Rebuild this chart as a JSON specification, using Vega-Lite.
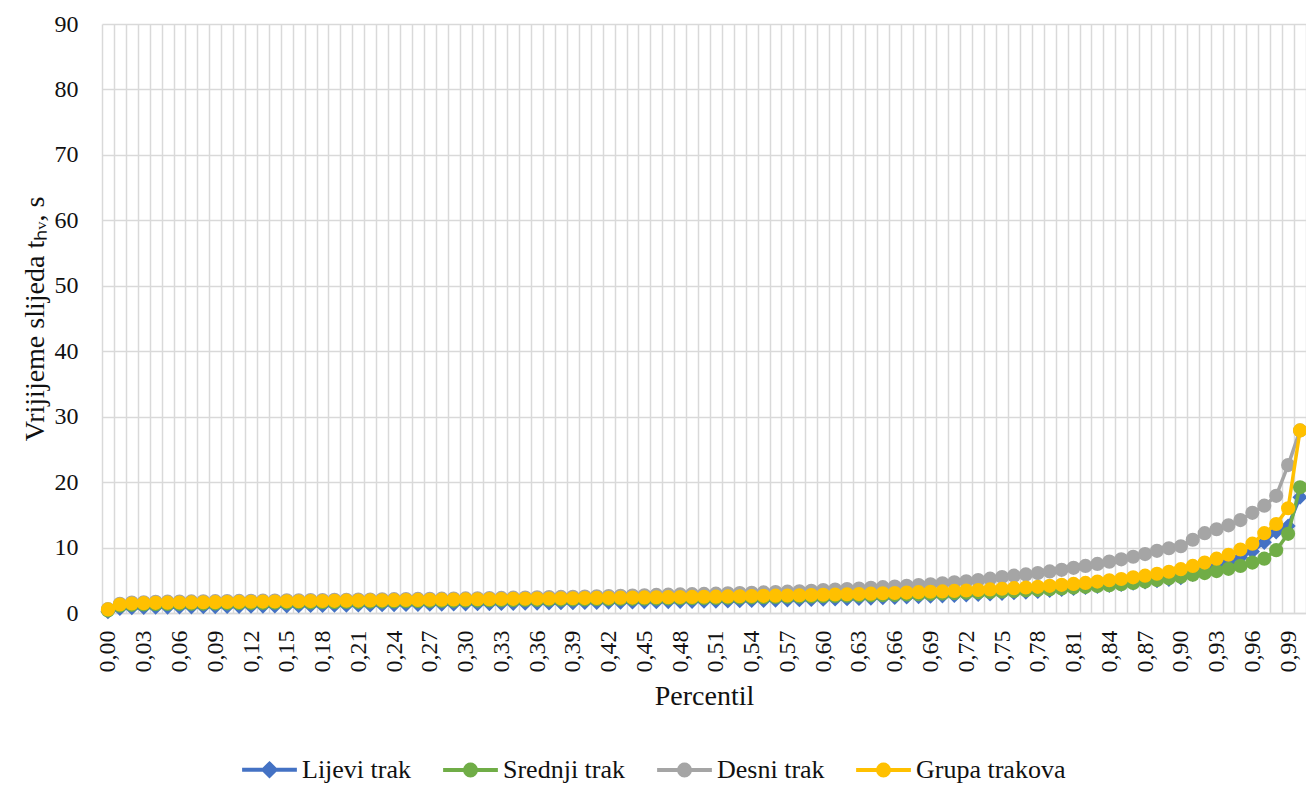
{
"$schema": "https://vega.github.io/schema/vega-lite/v6.json",
"width": 1204, "height": 589,
"autosize": {"type": "none"},
"padding": {"left": 102, "top": 24, "right": 0, "bottom": 174},
"background": "white",
"config": {
  "view": {"stroke": null},
  "font": "Liberation Serif",
  "axis": {"labelFont": "Liberation Serif", "titleFont": "Liberation Serif", "labelColor": "#111111", "titleColor": "#111111", "titleFontWeight": "normal"},
  "axisY": {"domain": false, "ticks": false, "grid": true, "gridColor": "#D9D9D9", "gridWidth": 1.5, "labelFontSize": 24, "labelPadding": 24, "titleFontSize": 28, "titlePadding": 5, "tickCount": 9}
},
"data": {"values": [
{"p":"0,00","L":0.2,"S":0.4,"D":0.6,"G":0.55},
{"p":"0,01","L":0.7,"S":1.1,"D":1.4,"G":1.3},
{"p":"0,02","L":0.8,"S":1.25,"D":1.6,"G":1.45},
{"p":"0,03","L":0.85,"S":1.3,"D":1.65,"G":1.5},
{"p":"0,04","L":0.88,"S":1.35,"D":1.7,"G":1.55},
{"p":"0,05","L":0.9,"S":1.38,"D":1.73,"G":1.58},
{"p":"0,06","L":0.92,"S":1.4,"D":1.75,"G":1.6},
{"p":"0,07","L":0.94,"S":1.42,"D":1.77,"G":1.62},
{"p":"0,08","L":0.96,"S":1.44,"D":1.79,"G":1.64},
{"p":"0,09","L":0.98,"S":1.46,"D":1.81,"G":1.66},
{"p":"0,10","L":1.0,"S":1.48,"D":1.83,"G":1.68},
{"p":"0,11","L":1.02,"S":1.5,"D":1.85,"G":1.7},
{"p":"0,12","L":1.04,"S":1.52,"D":1.87,"G":1.72},
{"p":"0,13","L":1.06,"S":1.54,"D":1.89,"G":1.74},
{"p":"0,14","L":1.08,"S":1.56,"D":1.91,"G":1.76},
{"p":"0,15","L":1.1,"S":1.58,"D":1.93,"G":1.78},
{"p":"0,16","L":1.12,"S":1.6,"D":1.95,"G":1.8},
{"p":"0,17","L":1.14,"S":1.62,"D":1.97,"G":1.82},
{"p":"0,18","L":1.16,"S":1.64,"D":1.99,"G":1.84},
{"p":"0,19","L":1.18,"S":1.66,"D":2.01,"G":1.86},
{"p":"0,20","L":1.2,"S":1.68,"D":2.03,"G":1.88},
{"p":"0,21","L":1.22,"S":1.7,"D":2.05,"G":1.9},
{"p":"0,22","L":1.24,"S":1.72,"D":2.07,"G":1.92},
{"p":"0,23","L":1.26,"S":1.74,"D":2.09,"G":1.94},
{"p":"0,24","L":1.28,"S":1.76,"D":2.11,"G":1.96},
{"p":"0,25","L":1.3,"S":1.78,"D":2.13,"G":1.98},
{"p":"0,26","L":1.32,"S":1.8,"D":2.15,"G":2.0},
{"p":"0,27","L":1.34,"S":1.82,"D":2.17,"G":2.02},
{"p":"0,28","L":1.36,"S":1.84,"D":2.19,"G":2.04},
{"p":"0,29","L":1.38,"S":1.86,"D":2.21,"G":2.06},
{"p":"0,30","L":1.4,"S":1.88,"D":2.23,"G":2.08},
{"p":"0,31","L":1.42,"S":1.9,"D":2.25,"G":2.1},
{"p":"0,32","L":1.44,"S":1.92,"D":2.28,"G":2.12},
{"p":"0,33","L":1.46,"S":1.94,"D":2.31,"G":2.14},
{"p":"0,34","L":1.48,"S":1.96,"D":2.34,"G":2.16},
{"p":"0,35","L":1.5,"S":1.98,"D":2.37,"G":2.18},
{"p":"0,36","L":1.52,"S":2.0,"D":2.4,"G":2.2},
{"p":"0,37","L":1.54,"S":2.02,"D":2.43,"G":2.22},
{"p":"0,38","L":1.56,"S":2.04,"D":2.46,"G":2.24},
{"p":"0,39","L":1.58,"S":2.06,"D":2.49,"G":2.26},
{"p":"0,40","L":1.6,"S":2.08,"D":2.52,"G":2.28},
{"p":"0,41","L":1.62,"S":2.1,"D":2.56,"G":2.3},
{"p":"0,42","L":1.64,"S":2.12,"D":2.6,"G":2.32},
{"p":"0,43","L":1.66,"S":2.14,"D":2.64,"G":2.34},
{"p":"0,44","L":1.68,"S":2.16,"D":2.68,"G":2.36},
{"p":"0,45","L":1.7,"S":2.18,"D":2.72,"G":2.38},
{"p":"0,46","L":1.72,"S":2.2,"D":2.76,"G":2.4},
{"p":"0,47","L":1.74,"S":2.22,"D":2.8,"G":2.42},
{"p":"0,48","L":1.76,"S":2.24,"D":2.84,"G":2.44},
{"p":"0,49","L":1.78,"S":2.26,"D":2.88,"G":2.46},
{"p":"0,50","L":1.8,"S":2.28,"D":2.92,"G":2.48},
{"p":"0,51","L":1.82,"S":2.3,"D":2.96,"G":2.5},
{"p":"0,52","L":1.85,"S":2.33,"D":3.0,"G":2.53},
{"p":"0,53","L":1.88,"S":2.36,"D":3.05,"G":2.56},
{"p":"0,54","L":1.91,"S":2.39,"D":3.1,"G":2.59},
{"p":"0,55","L":1.94,"S":2.42,"D":3.15,"G":2.62},
{"p":"0,56","L":1.97,"S":2.45,"D":3.2,"G":2.65},
{"p":"0,57","L":2.0,"S":2.48,"D":3.26,"G":2.68},
{"p":"0,58","L":2.03,"S":2.51,"D":3.32,"G":2.71},
{"p":"0,59","L":2.07,"S":2.54,"D":3.4,"G":2.75},
{"p":"0,60","L":2.11,"S":2.57,"D":3.5,"G":2.79},
{"p":"0,61","L":2.15,"S":2.6,"D":3.58,"G":2.83},
{"p":"0,62","L":2.19,"S":2.63,"D":3.66,"G":2.87},
{"p":"0,63","L":2.23,"S":2.66,"D":3.75,"G":2.91},
{"p":"0,64","L":2.28,"S":2.7,"D":3.85,"G":2.96},
{"p":"0,65","L":2.33,"S":2.74,"D":3.95,"G":3.01},
{"p":"0,66","L":2.38,"S":2.78,"D":4.05,"G":3.06},
{"p":"0,67","L":2.44,"S":2.83,"D":4.15,"G":3.12},
{"p":"0,68","L":2.5,"S":2.88,"D":4.27,"G":3.18},
{"p":"0,69","L":2.56,"S":2.93,"D":4.4,"G":3.24},
{"p":"0,70","L":2.62,"S":2.98,"D":4.55,"G":3.3},
{"p":"0,71","L":2.69,"S":3.04,"D":4.7,"G":3.37},
{"p":"0,72","L":2.76,"S":3.1,"D":4.85,"G":3.44},
{"p":"0,73","L":2.84,"S":3.16,"D":5.05,"G":3.52},
{"p":"0,74","L":2.92,"S":3.22,"D":5.25,"G":3.6},
{"p":"0,75","L":3.0,"S":3.3,"D":5.5,"G":3.7},
{"p":"0,76","L":3.1,"S":3.38,"D":5.7,"G":3.8},
{"p":"0,77","L":3.2,"S":3.46,"D":5.9,"G":3.9},
{"p":"0,78","L":3.3,"S":3.54,"D":6.1,"G":4.0},
{"p":"0,79","L":3.45,"S":3.64,"D":6.35,"G":4.15},
{"p":"0,80","L":3.6,"S":3.75,"D":6.6,"G":4.3},
{"p":"0,81","L":3.75,"S":3.88,"D":6.9,"G":4.45},
{"p":"0,82","L":3.9,"S":4.0,"D":7.2,"G":4.6},
{"p":"0,83","L":4.05,"S":4.12,"D":7.5,"G":4.8},
{"p":"0,84","L":4.2,"S":4.25,"D":7.85,"G":5.0},
{"p":"0,85","L":4.35,"S":4.4,"D":8.2,"G":5.2},
{"p":"0,86","L":4.55,"S":4.6,"D":8.6,"G":5.45},
{"p":"0,87","L":4.75,"S":4.8,"D":9.0,"G":5.7},
{"p":"0,88","L":4.95,"S":5.05,"D":9.5,"G":6.0},
{"p":"0,89","L":5.15,"S":5.3,"D":9.9,"G":6.3},
{"p":"0,90","L":5.4,"S":5.55,"D":10.2,"G":6.7},
{"p":"0,91","L":5.9,"S":5.85,"D":11.2,"G":7.2},
{"p":"0,92","L":6.6,"S":6.1,"D":12.2,"G":7.7},
{"p":"0,93","L":7.2,"S":6.4,"D":12.8,"G":8.3},
{"p":"0,94","L":7.8,"S":6.75,"D":13.4,"G":8.9},
{"p":"0,95","L":8.5,"S":7.2,"D":14.2,"G":9.7},
{"p":"0,96","L":9.4,"S":7.7,"D":15.3,"G":10.6},
{"p":"0,97","L":10.8,"S":8.3,"D":16.4,"G":12.2},
{"p":"0,98","L":12.4,"S":9.6,"D":17.9,"G":13.6},
{"p":"0,99","L":13.3,"S":12.1,"D":22.6,"G":16.0},
{"p":"1,00","L":17.7,"S":19.2,"D":27.9,"G":27.9}
]},
"encoding": {
  "x": {"field": "p", "type": "ordinal", "scale": {"type": "band", "paddingInner": 0, "paddingOuter": 0},
    "axis": {"title": "Percentil", "labelAngle": -90, "labelOverlap": false,
      "labelExpr": "round(toNumber(replace(datum.label, ',', '.')) * 100) % 3 === 0 ? datum.label : ''",
      "tickBand": "extent", "ticks": false, "grid": true, "gridColor": "#D9D9D9", "gridWidth": 1.5,
      "domainColor": "#D9D9D9", "domainWidth": 1.5, "labelFontSize": 24, "labelPadding": 17,
      "titleFontSize": 28, "titlePadding": 10}}
},
"layer": [
  {"mark": {"type": "line", "strokeWidth": 3.5, "strokeJoin": "round", "strokeCap": "round"},
   "encoding": {
     "y": {"field": "L", "type": "quantitative", "scale": {"domain": [0, 90]}, "title": "Vrijijeme slijeda tₕᵥ, s"},
     "color": {"datum": "Lijevi trak", "type": "nominal",
       "scale": {"domain": ["Lijevi trak", "Srednji trak", "Desni trak", "Grupa trakova"], "range": ["#4472C4", "#70AD47", "#A5A5A5", "#FFC000"]},
       "legend": {"title": null, "orient": "none", "legendX": 138, "legendY": 716, "direction": "horizontal", "columns": 4,
         "labelFont": "Liberation Serif", "labelFontSize": 26, "labelColor": "#111111", "symbolSize": 3000, "labelOffset": 3, "columnPadding": 23,
         "encode": {"symbols": {"update": {
           "shape": {"signal": "datum.value === 'Lijevi trak' ? 'M-1,0L1,0M0,-0.22L0.22,0L0,0.22L-0.22,0Z' : 'M-1,0L1,0M-0.2,0A0.2,0.2,0,1,1,0.2,0A0.2,0.2,0,1,1,-0.2,0Z'"},
           "fill": {"signal": "scale('color', datum.value)"},
           "stroke": {"signal": "scale('color', datum.value)"},
           "strokeWidth": {"value": 4},
           "opacity": {"value": 1},
           "fillOpacity": {"value": 1}
         }}}}}
   }},
  {"mark": {"type": "point", "shape": "diamond", "filled": true, "size": 230, "opacity": 1},
   "encoding": {"y": {"field": "L", "type": "quantitative", "scale": {"domain": [0, 90]}, "title": "Vrijijeme slijeda tₕᵥ, s"}, "color": {"datum": "Lijevi trak", "type": "nominal"}}},
  {"mark": {"type": "line", "strokeWidth": 3.5, "strokeJoin": "round", "strokeCap": "round"},
   "encoding": {"y": {"field": "S", "type": "quantitative", "scale": {"domain": [0, 90]}, "title": "Vrijijeme slijeda tₕᵥ, s"}, "color": {"datum": "Srednji trak", "type": "nominal"}}},
  {"mark": {"type": "point", "shape": "circle", "filled": true, "size": 200, "opacity": 1},
   "encoding": {"y": {"field": "S", "type": "quantitative", "scale": {"domain": [0, 90]}, "title": "Vrijijeme slijeda tₕᵥ, s"}, "color": {"datum": "Srednji trak", "type": "nominal"}}},
  {"mark": {"type": "line", "strokeWidth": 3.5, "strokeJoin": "round", "strokeCap": "round"},
   "encoding": {"y": {"field": "D", "type": "quantitative", "scale": {"domain": [0, 90]}, "title": "Vrijijeme slijeda tₕᵥ, s"}, "color": {"datum": "Desni trak", "type": "nominal"}}},
  {"mark": {"type": "point", "shape": "circle", "filled": true, "size": 200, "opacity": 1},
   "encoding": {"y": {"field": "D", "type": "quantitative", "scale": {"domain": [0, 90]}, "title": "Vrijijeme slijeda tₕᵥ, s"}, "color": {"datum": "Desni trak", "type": "nominal"}}},
  {"mark": {"type": "line", "strokeWidth": 3.5, "strokeJoin": "round", "strokeCap": "round"},
   "encoding": {"y": {"field": "G", "type": "quantitative", "scale": {"domain": [0, 90]}, "title": "Vrijijeme slijeda tₕᵥ, s"}, "color": {"datum": "Grupa trakova", "type": "nominal"}}},
  {"mark": {"type": "point", "shape": "circle", "filled": true, "size": 200, "opacity": 1},
   "encoding": {"y": {"field": "G", "type": "quantitative", "scale": {"domain": [0, 90]}, "title": "Vrijijeme slijeda tₕᵥ, s"}, "color": {"datum": "Grupa trakova", "type": "nominal"}}}
]
}
